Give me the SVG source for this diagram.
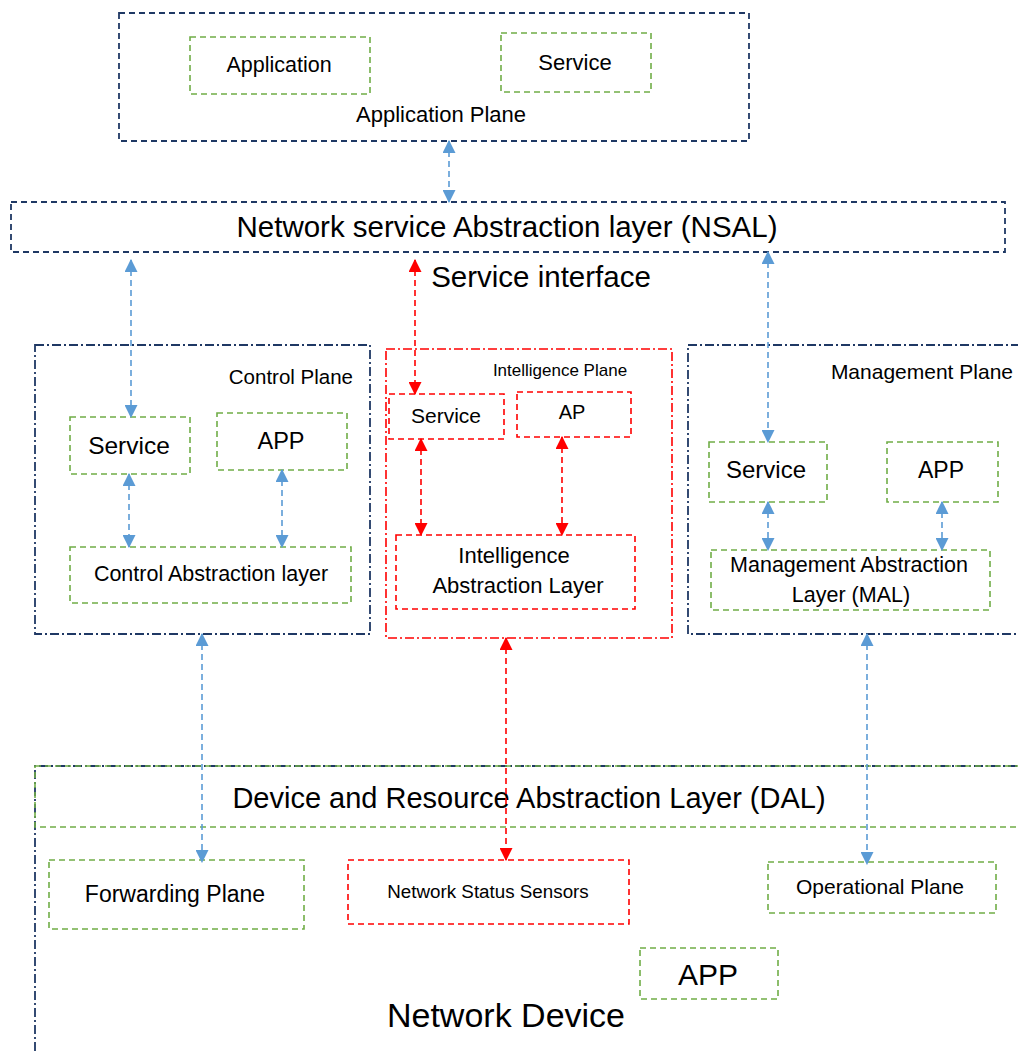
<svg xmlns="http://www.w3.org/2000/svg" width="1018" height="1051" viewBox="0 0 1018 1051">
  <style>
    text { font-family: "Liberation Sans", Arial, sans-serif; fill: #000; text-anchor: middle; }
    .end { text-anchor: end; }
    .navy { fill: none; stroke: #1f3864; stroke-width: 1.8; stroke-dasharray: 6 4; }
    .navydd { fill: none; stroke: #1f3864; stroke-width: 1.8; stroke-dasharray: 9 3 2 3; }
    .reddd { fill: none; stroke: #ff0000; stroke-width: 1.6; stroke-dasharray: 9 3 2 3; }
    .green { fill: none; stroke: #70ad47; stroke-width: 1.6; stroke-dasharray: 6 4; }
    .red { fill: none; stroke: #ff0000; stroke-width: 1.6; stroke-dasharray: 6 4; }
    .blink { fill: none; stroke: #5b9bd5; stroke-width: 1.6; stroke-dasharray: 6 4; marker-start: url(#ab); marker-end: url(#ab); }
    .rlink { fill: none; stroke: #ff0000; stroke-width: 1.6; stroke-dasharray: 6 4; marker-start: url(#ar); marker-end: url(#ar); }
  </style>
  <defs>
    <marker id="ab" viewBox="0 0 12 12" refX="11" refY="6" markerWidth="13" markerHeight="13" markerUnits="userSpaceOnUse" orient="auto-start-reverse">
      <path d="M0,0 L12,6 L0,12 Z" fill="#5b9bd5"/>
    </marker>
    <marker id="ar" viewBox="0 0 12 12" refX="11" refY="6" markerWidth="13" markerHeight="13" markerUnits="userSpaceOnUse" orient="auto-start-reverse">
      <path d="M0,0 L12,6 L0,12 Z" fill="#ff0000"/>
    </marker>
  </defs>

  <!-- Application plane -->
  <g id="application-plane">
    <rect class="navy" x="119" y="13" width="630" height="128"/>
    <text x="441" y="122" font-size="22">Application Plane</text>
  </g>
  <g id="application">
    <rect class="green" x="190" y="37" width="180" height="57"/>
    <text x="279" y="72" font-size="21.5">Application</text>
  </g>
  <g id="app-service">
    <rect class="green" x="501" y="33" width="150" height="59"/>
    <text x="575" y="70" font-size="22">Service</text>
  </g>

  <!-- Network service abstraction layer -->
  <g id="nsal">
    <rect class="navy" x="11" y="202" width="994" height="50"/>
    <text x="507" y="237" font-size="29.5">Network service Abstraction layer (NSAL)</text>
  </g>
  <g id="service-interface">
    <text x="541" y="287" font-size="29.5">Service interface</text>
  </g>

  <!-- Control plane -->
  <g id="control-plane">
    <rect class="navydd" x="35" y="345" width="335" height="289"/>
    <text class="end" x="353" y="384" font-size="20.5">Control Plane</text>
  </g>
  <g id="control-service">
    <rect class="green" x="70" y="417" width="120" height="57"/>
    <text x="129" y="454" font-size="24.5">Service</text>
  </g>
  <g id="control-app">
    <rect class="green" x="217" y="413" width="130" height="57"/>
    <text x="281" y="449" font-size="23.5">APP</text>
  </g>
  <g id="control-abstraction">
    <rect class="green" x="70" y="547" width="281" height="56"/>
    <text x="211" y="581" font-size="21.5">Control Abstraction layer</text>
  </g>

  <!-- Intelligence plane -->
  <g id="intelligence-plane">
    <rect class="reddd" x="386" y="349" width="286" height="289"/>
    <text x="560" y="376" font-size="17">Intelligence Plane</text>
  </g>
  <g id="intel-service">
    <rect class="red" x="389" y="394" width="115" height="45"/>
    <text x="446" y="423" font-size="21">Service</text>
  </g>
  <g id="intel-ap">
    <rect class="red" x="517" y="392" width="114" height="45"/>
    <text x="572" y="419" font-size="20">AP</text>
  </g>
  <g id="intel-abstraction">
    <rect class="red" x="396" y="535" width="239" height="74"/>
    <text x="514" y="563" font-size="22">Intelligence</text>
    <text x="518" y="593" font-size="22">Abstraction Layer</text>
  </g>

  <!-- Management plane -->
  <g id="management-plane">
    <rect class="navydd" x="688" y="345" width="340" height="289"/>
    <text class="end" x="1013" y="379" font-size="21">Management Plane</text>
  </g>
  <g id="mgmt-service">
    <rect class="green" x="709" y="442" width="118" height="60"/>
    <text x="766" y="478" font-size="24">Service</text>
  </g>
  <g id="mgmt-app">
    <rect class="green" x="887" y="442" width="111" height="60"/>
    <text x="941" y="478" font-size="23">APP</text>
  </g>
  <g id="mgmt-abstraction">
    <rect class="green" x="711" y="550" width="279" height="60"/>
    <text x="849" y="572" font-size="21.5">Management Abstraction</text>
    <text x="851" y="602" font-size="21.5">Layer (MAL)</text>
  </g>

  <!-- Network device and its layers -->
  <g id="network-device">
    <path class="navydd" d="M35,1051 L35,766 L1030,766"/>
    <text x="506" y="1027" font-size="34">Network Device</text>
  </g>
  <g id="dal">
    <rect class="green" x="35" y="766" width="1000" height="61"/>
    <text x="529" y="808" font-size="29">Device and Resource Abstraction Layer (DAL)</text>
  </g>
  <g id="forwarding-plane">
    <rect class="green" x="49" y="860" width="255" height="69"/>
    <text x="175" y="902" font-size="23">Forwarding Plane</text>
  </g>
  <g id="network-status-sensors">
    <rect class="red" x="348" y="860" width="281" height="64"/>
    <text x="488" y="898" font-size="18.8">Network Status Sensors</text>
  </g>
  <g id="operational-plane">
    <rect class="green" x="768" y="862" width="228" height="51"/>
    <text x="880" y="894" font-size="21">Operational Plane</text>
  </g>
  <g id="device-app">
    <rect class="green" x="640" y="948" width="138" height="51"/>
    <text x="708" y="985" font-size="30">APP</text>
  </g>

  <!-- Connectors -->
  <g id="connectors">
    <line class="blink" x1="449" y1="141" x2="449" y2="202"/>
    <line class="blink" x1="131" y1="260" x2="131" y2="417"/>
    <line class="rlink" x1="415" y1="260" x2="415" y2="394"/>
    <line class="blink" x1="768" y1="252" x2="768" y2="442"/>
    <line class="blink" x1="129" y1="474" x2="129" y2="547"/>
    <line class="blink" x1="282" y1="470" x2="282" y2="547"/>
    <line class="rlink" x1="421" y1="439" x2="421" y2="535"/>
    <line class="rlink" x1="562" y1="437" x2="562" y2="535"/>
    <line class="blink" x1="768" y1="502" x2="768" y2="550"/>
    <line class="blink" x1="942" y1="502" x2="942" y2="550"/>
    <line class="blink" x1="202" y1="634" x2="202" y2="862"/>
    <line class="rlink" x1="506" y1="638" x2="506" y2="860"/>
    <line class="blink" x1="867" y1="634" x2="867" y2="864"/>
  </g>
</svg>
